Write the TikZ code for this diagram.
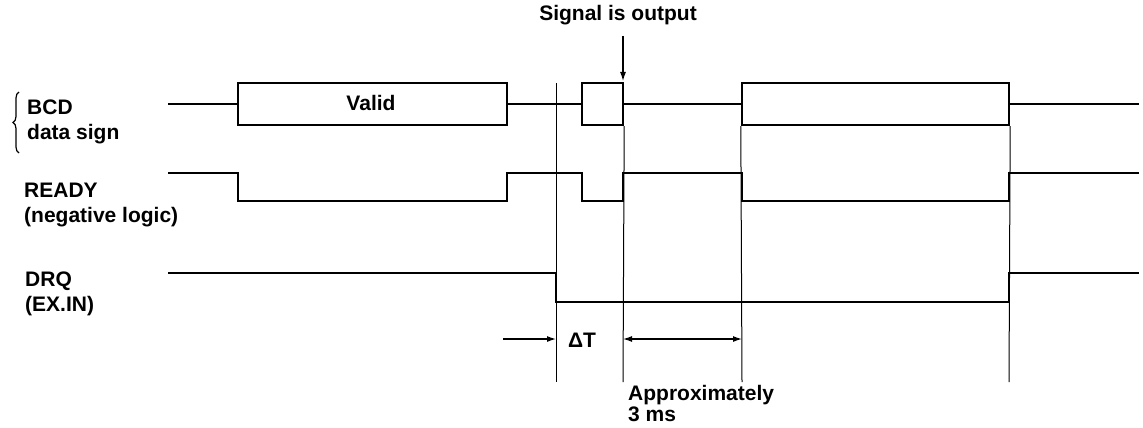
\documentclass[tikz,border=0pt]{standalone}
\usepackage{fontspec}
\setmainfont{Liberation Sans}
\usetikzlibrary{arrows.meta,decorations.pathreplacing}

\begin{document}
\begin{tikzpicture}[
        x=1pt, y=-1pt,
        % Stile per le forme d'onda dei segnali
        signal/.style={line width=2.4pt, line join=miter},
        % Stile per i blocchi dati sulla riga BCD
        dato/.style={draw, line width=2.4pt, minimum height=42pt, inner sep=0pt},
        % Linee di riferimento verticali (sottili)
        guida/.style={line width=1pt},
        % Frecce delle quote temporali
        freccia/.style={line width=1.2pt, -{Latex[length=9pt,width=6pt]}},
        % Testi
        etichetta/.style={font=\fontsize{21}{25}\selectfont\bfseries, inner sep=0pt},
        nome/.style={etichetta, align=left, anchor=west}
    ]
    \useasboundingbox (0,0) rectangle (1143,428);

        % --- NOMI DEI SEGNALI ---
        \node[nome] (bcd)   at (27,122)   {BCD\\data sign};
        \node[nome] (ready) at (24,205)   {READY\\(negative logic)};
        \node[nome] (drq)   at (25,293.5) {DRQ\\(EX.IN)};
        \draw[line width=1.2pt, decorate, decoration={brace, amplitude=6pt}]
            (19,153) -- (19,92);

        % --- RIGA BCD (BLOCCHI) ---
        \coordinate (bcd0) at (168,104);
        \coordinate (bcd1) at (1139,104);
        \node[dato, minimum width=269pt] (valid)   at (372.5,104) {};
        \node[etichetta] at (371,103) {Valid};
        \node[dato, minimum width=41pt]  (segnale) at (602.5,104) {};
        \node[dato, minimum width=267pt] (blocco)  at (875.5,104) {};
        \draw[signal] (bcd0) -- (valid.west);
        \draw[signal] (valid.east) -- (segnale.west);
        \draw[signal] (segnale.east) -- (blocco.west);
        \draw[signal] (blocco.east) -- (bcd1);

        % --- READY ---
        \draw[signal] (168,173) -| (238,201) -| (507,173) -| (582,201)
            -| (623,173) -| (742,201) -| (1009,173) -- (1139,173);

        % --- DRQ ---
        \draw[signal] (168,273) -| (556,302) -| (1009,273) -- (1139,273);

        % --- LINEE DI RIFERIMENTO ---
        \draw[guida] (556,83) -- (556,382);
        \draw[guida] (segnale.south east) -- (623,382);
        \draw[guida] (blocco.south west) -- (742,382);
        \draw[guida] (blocco.south east) -- (1009,382);

        % --- QUOTE E NOTE ---
        \node[etichetta] (uscita) at (618,15) {Signal is output};
        \coordinate (punta) at (623,81);
        \draw[freccia] (623,36) -- (punta);

        \coordinate (dt0) at (503,339);
        \coordinate (dt1) at (556,339);
        \draw[freccia] (dt0) -- (dt1);
        \node[etichetta] (dt) at (582,340) {ΔT};

        \coordinate (ms0) at (623,339);
        \coordinate (ms1) at (742,339);
        \draw[freccia, {Latex[length=9pt,width=6pt]}-{Latex[length=9pt,width=6pt]}] (ms0) -- (ms1);
        \node[etichetta, align=left, anchor=north west,
              font=\fontsize{21}{21}\selectfont\bfseries] (circa) at (628,385)
            {Approximately\\3 ms};

    \end{tikzpicture}
\end{document}
